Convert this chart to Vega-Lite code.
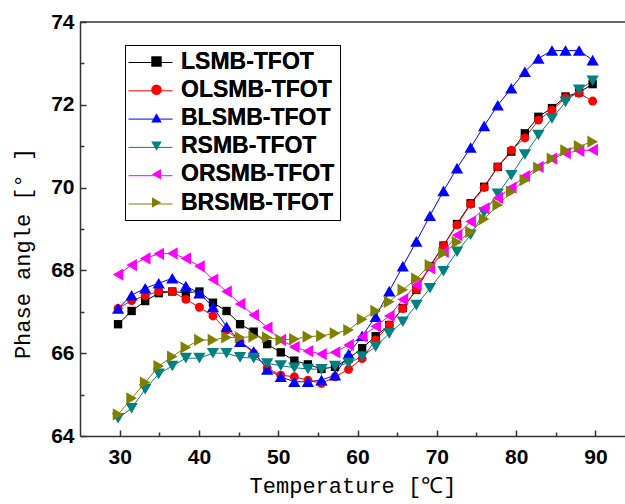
{
  "$schema": "https://vega.github.io/schema/vega-lite/v6.json",
  "autosize": {"type": "none"},
  "padding": {"left": 80, "top": 22, "right": 0, "bottom": 68},
  "width": 545,
  "height": 414,
  "config": {
    "view": {"stroke": null},
    "axis": {"grid": false, "domainColor": "#333333", "domainWidth": 1.5, "tickColor": "#333333", "tickWidth": 1.5,
      "labelFont": "Liberation Sans", "labelFontWeight": "bold", "labelFontSize": 21, "labelColor": "#000000",
      "titleFont": "Liberation Mono", "titleFontWeight": "normal", "titleFontSize": 22, "titleColor": "#000000"}
  },
  "datasets": {
    "series": [{"s":"LSMB-TFOT"},{"s":"OLSMB-TFOT"},{"s":"BLSMB-TFOT"},{"s":"RSMB-TFOT"},{"s":"ORSMB-TFOT"},{"s":"BRSMB-TFOT"}]
  },
  "data": {"values": [
    {"s":"LSMB-TFOT","T":29.8,"phase":66.7},{"s":"LSMB-TFOT","T":31.51,"phase":67.02},{"s":"LSMB-TFOT","T":33.22,"phase":67.26},{"s":"LSMB-TFOT","T":34.93,"phase":67.45},{"s":"LSMB-TFOT","T":36.64,"phase":67.49},{"s":"LSMB-TFOT","T":38.35,"phase":67.46},{"s":"LSMB-TFOT","T":40.06,"phase":67.49},{"s":"LSMB-TFOT","T":41.77,"phase":67.22},{"s":"LSMB-TFOT","T":43.48,"phase":67.02},{"s":"LSMB-TFOT","T":45.19,"phase":66.7},{"s":"LSMB-TFOT","T":46.9,"phase":66.52},{"s":"LSMB-TFOT","T":48.61,"phase":66.22},{"s":"LSMB-TFOT","T":50.32,"phase":66.02},{"s":"LSMB-TFOT","T":52.03,"phase":65.82},{"s":"LSMB-TFOT","T":53.74,"phase":65.73},{"s":"LSMB-TFOT","T":55.45,"phase":65.62},{"s":"LSMB-TFOT","T":57.16,"phase":65.67},{"s":"LSMB-TFOT","T":58.87,"phase":65.87},{"s":"LSMB-TFOT","T":60.58,"phase":66.12},{"s":"LSMB-TFOT","T":62.29,"phase":66.41},{"s":"LSMB-TFOT","T":64.0,"phase":66.68},{"s":"LSMB-TFOT","T":65.71,"phase":67.09},{"s":"LSMB-TFOT","T":67.42,"phase":67.53},{"s":"LSMB-TFOT","T":69.13,"phase":68.1},{"s":"LSMB-TFOT","T":70.84,"phase":68.6},{"s":"LSMB-TFOT","T":72.55,"phase":69.12},{"s":"LSMB-TFOT","T":74.26,"phase":69.62},{"s":"LSMB-TFOT","T":75.97,"phase":70.02},{"s":"LSMB-TFOT","T":77.68,"phase":70.5},{"s":"LSMB-TFOT","T":79.39,"phase":70.87},{"s":"LSMB-TFOT","T":81.1,"phase":71.31},{"s":"LSMB-TFOT","T":82.81,"phase":71.71},{"s":"LSMB-TFOT","T":84.52,"phase":71.92},{"s":"LSMB-TFOT","T":86.23,"phase":72.2},{"s":"LSMB-TFOT","T":87.94,"phase":72.3},{"s":"LSMB-TFOT","T":89.65,"phase":72.5},
    {"s":"OLSMB-TFOT","T":29.8,"phase":67.08},{"s":"OLSMB-TFOT","T":31.51,"phase":67.27},{"s":"OLSMB-TFOT","T":33.22,"phase":67.39},{"s":"OLSMB-TFOT","T":34.93,"phase":67.49},{"s":"OLSMB-TFOT","T":36.64,"phase":67.49},{"s":"OLSMB-TFOT","T":38.35,"phase":67.3},{"s":"OLSMB-TFOT","T":40.06,"phase":67.11},{"s":"OLSMB-TFOT","T":41.77,"phase":66.9},{"s":"OLSMB-TFOT","T":43.48,"phase":66.56},{"s":"OLSMB-TFOT","T":45.19,"phase":66.28},{"s":"OLSMB-TFOT","T":46.9,"phase":66.0},{"s":"OLSMB-TFOT","T":48.61,"phase":65.64},{"s":"OLSMB-TFOT","T":50.32,"phase":65.47},{"s":"OLSMB-TFOT","T":52.03,"phase":65.43},{"s":"OLSMB-TFOT","T":53.74,"phase":65.35},{"s":"OLSMB-TFOT","T":55.45,"phase":65.27},{"s":"OLSMB-TFOT","T":57.16,"phase":65.43},{"s":"OLSMB-TFOT","T":58.87,"phase":65.61},{"s":"OLSMB-TFOT","T":60.58,"phase":65.87},{"s":"OLSMB-TFOT","T":62.29,"phase":66.32},{"s":"OLSMB-TFOT","T":64.0,"phase":66.68},{"s":"OLSMB-TFOT","T":65.71,"phase":67.08},{"s":"OLSMB-TFOT","T":67.42,"phase":67.54},{"s":"OLSMB-TFOT","T":69.13,"phase":68.1},{"s":"OLSMB-TFOT","T":70.84,"phase":68.6},{"s":"OLSMB-TFOT","T":72.55,"phase":69.1},{"s":"OLSMB-TFOT","T":74.26,"phase":69.6},{"s":"OLSMB-TFOT","T":75.97,"phase":70.0},{"s":"OLSMB-TFOT","T":77.68,"phase":70.5},{"s":"OLSMB-TFOT","T":79.39,"phase":70.9},{"s":"OLSMB-TFOT","T":81.1,"phase":71.2},{"s":"OLSMB-TFOT","T":82.81,"phase":71.63},{"s":"OLSMB-TFOT","T":84.52,"phase":71.87},{"s":"OLSMB-TFOT","T":86.23,"phase":72.17},{"s":"OLSMB-TFOT","T":87.94,"phase":72.28},{"s":"OLSMB-TFOT","T":89.65,"phase":72.09},
    {"s":"BLSMB-TFOT","T":29.8,"phase":67.08},{"s":"BLSMB-TFOT","T":31.51,"phase":67.4},{"s":"BLSMB-TFOT","T":33.22,"phase":67.57},{"s":"BLSMB-TFOT","T":34.93,"phase":67.69},{"s":"BLSMB-TFOT","T":36.64,"phase":67.81},{"s":"BLSMB-TFOT","T":38.35,"phase":67.62},{"s":"BLSMB-TFOT","T":40.06,"phase":67.45},{"s":"BLSMB-TFOT","T":41.77,"phase":67.12},{"s":"BLSMB-TFOT","T":43.48,"phase":66.64},{"s":"BLSMB-TFOT","T":45.19,"phase":66.28},{"s":"BLSMB-TFOT","T":46.9,"phase":66.04},{"s":"BLSMB-TFOT","T":48.61,"phase":65.61},{"s":"BLSMB-TFOT","T":50.32,"phase":65.43},{"s":"BLSMB-TFOT","T":52.03,"phase":65.31},{"s":"BLSMB-TFOT","T":53.74,"phase":65.31},{"s":"BLSMB-TFOT","T":55.45,"phase":65.35},{"s":"BLSMB-TFOT","T":57.16,"phase":65.47},{"s":"BLSMB-TFOT","T":58.87,"phase":65.98},{"s":"BLSMB-TFOT","T":60.58,"phase":66.42},{"s":"BLSMB-TFOT","T":62.29,"phase":66.88},{"s":"BLSMB-TFOT","T":64.0,"phase":67.5},{"s":"BLSMB-TFOT","T":65.71,"phase":68.1},{"s":"BLSMB-TFOT","T":67.42,"phase":68.7},{"s":"BLSMB-TFOT","T":69.13,"phase":69.32},{"s":"BLSMB-TFOT","T":70.84,"phase":69.92},{"s":"BLSMB-TFOT","T":72.55,"phase":70.47},{"s":"BLSMB-TFOT","T":74.26,"phase":70.97},{"s":"BLSMB-TFOT","T":75.97,"phase":71.49},{"s":"BLSMB-TFOT","T":77.68,"phase":71.99},{"s":"BLSMB-TFOT","T":79.39,"phase":72.4},{"s":"BLSMB-TFOT","T":81.1,"phase":72.8},{"s":"BLSMB-TFOT","T":82.81,"phase":73.12},{"s":"BLSMB-TFOT","T":84.52,"phase":73.31},{"s":"BLSMB-TFOT","T":86.23,"phase":73.31},{"s":"BLSMB-TFOT","T":87.94,"phase":73.31},{"s":"BLSMB-TFOT","T":89.65,"phase":73.08},
    {"s":"RSMB-TFOT","T":29.8,"phase":64.43},{"s":"RSMB-TFOT","T":31.51,"phase":64.67},{"s":"RSMB-TFOT","T":33.22,"phase":65.13},{"s":"RSMB-TFOT","T":34.93,"phase":65.5},{"s":"RSMB-TFOT","T":36.64,"phase":65.69},{"s":"RSMB-TFOT","T":38.35,"phase":65.88},{"s":"RSMB-TFOT","T":40.06,"phase":65.88},{"s":"RSMB-TFOT","T":41.77,"phase":66.0},{"s":"RSMB-TFOT","T":43.48,"phase":66.0},{"s":"RSMB-TFOT","T":45.19,"phase":65.9},{"s":"RSMB-TFOT","T":46.9,"phase":65.88},{"s":"RSMB-TFOT","T":48.61,"phase":65.75},{"s":"RSMB-TFOT","T":50.32,"phase":65.7},{"s":"RSMB-TFOT","T":52.03,"phase":65.65},{"s":"RSMB-TFOT","T":53.74,"phase":65.62},{"s":"RSMB-TFOT","T":55.45,"phase":65.61},{"s":"RSMB-TFOT","T":57.16,"phase":65.69},{"s":"RSMB-TFOT","T":58.87,"phase":65.76},{"s":"RSMB-TFOT","T":60.58,"phase":65.92},{"s":"RSMB-TFOT","T":62.29,"phase":66.16},{"s":"RSMB-TFOT","T":64.0,"phase":66.48},{"s":"RSMB-TFOT","T":65.71,"phase":66.76},{"s":"RSMB-TFOT","T":67.42,"phase":67.16},{"s":"RSMB-TFOT","T":69.13,"phase":67.57},{"s":"RSMB-TFOT","T":70.84,"phase":67.98},{"s":"RSMB-TFOT","T":72.55,"phase":68.45},{"s":"RSMB-TFOT","T":74.26,"phase":68.86},{"s":"RSMB-TFOT","T":75.97,"phase":69.4},{"s":"RSMB-TFOT","T":77.68,"phase":69.85},{"s":"RSMB-TFOT","T":79.39,"phase":70.3},{"s":"RSMB-TFOT","T":81.1,"phase":70.8},{"s":"RSMB-TFOT","T":82.81,"phase":71.27},{"s":"RSMB-TFOT","T":84.52,"phase":71.67},{"s":"RSMB-TFOT","T":86.23,"phase":72.07},{"s":"RSMB-TFOT","T":87.94,"phase":72.36},{"s":"RSMB-TFOT","T":89.65,"phase":72.58},
    {"s":"ORSMB-TFOT","T":29.8,"phase":67.9},{"s":"ORSMB-TFOT","T":31.51,"phase":68.13},{"s":"ORSMB-TFOT","T":33.22,"phase":68.29},{"s":"ORSMB-TFOT","T":34.93,"phase":68.4},{"s":"ORSMB-TFOT","T":36.64,"phase":68.41},{"s":"ORSMB-TFOT","T":38.35,"phase":68.29},{"s":"ORSMB-TFOT","T":40.06,"phase":68.1},{"s":"ORSMB-TFOT","T":41.77,"phase":67.78},{"s":"ORSMB-TFOT","T":43.48,"phase":67.49},{"s":"ORSMB-TFOT","T":45.19,"phase":67.19},{"s":"ORSMB-TFOT","T":46.9,"phase":66.92},{"s":"ORSMB-TFOT","T":48.61,"phase":66.62},{"s":"ORSMB-TFOT","T":50.32,"phase":66.32},{"s":"ORSMB-TFOT","T":52.03,"phase":66.15},{"s":"ORSMB-TFOT","T":53.74,"phase":66.05},{"s":"ORSMB-TFOT","T":55.45,"phase":65.98},{"s":"ORSMB-TFOT","T":57.16,"phase":66.02},{"s":"ORSMB-TFOT","T":58.87,"phase":66.2},{"s":"ORSMB-TFOT","T":60.58,"phase":66.4},{"s":"ORSMB-TFOT","T":62.29,"phase":66.65},{"s":"ORSMB-TFOT","T":64.0,"phase":66.9},{"s":"ORSMB-TFOT","T":65.71,"phase":67.3},{"s":"ORSMB-TFOT","T":67.42,"phase":67.65},{"s":"ORSMB-TFOT","T":69.13,"phase":68.05},{"s":"ORSMB-TFOT","T":70.84,"phase":68.45},{"s":"ORSMB-TFOT","T":72.55,"phase":68.85},{"s":"ORSMB-TFOT","T":74.26,"phase":69.18},{"s":"ORSMB-TFOT","T":75.97,"phase":69.5},{"s":"ORSMB-TFOT","T":77.68,"phase":69.75},{"s":"ORSMB-TFOT","T":79.39,"phase":70.0},{"s":"ORSMB-TFOT","T":81.1,"phase":70.28},{"s":"ORSMB-TFOT","T":82.81,"phase":70.5},{"s":"ORSMB-TFOT","T":84.52,"phase":70.7},{"s":"ORSMB-TFOT","T":86.23,"phase":70.83},{"s":"ORSMB-TFOT","T":87.94,"phase":70.89},{"s":"ORSMB-TFOT","T":89.65,"phase":70.91},
    {"s":"BRSMB-TFOT","T":29.8,"phase":64.52},{"s":"BRSMB-TFOT","T":31.51,"phase":64.91},{"s":"BRSMB-TFOT","T":33.22,"phase":65.29},{"s":"BRSMB-TFOT","T":34.93,"phase":65.69},{"s":"BRSMB-TFOT","T":36.64,"phase":65.92},{"s":"BRSMB-TFOT","T":38.35,"phase":66.14},{"s":"BRSMB-TFOT","T":40.06,"phase":66.32},{"s":"BRSMB-TFOT","T":41.77,"phase":66.32},{"s":"BRSMB-TFOT","T":43.48,"phase":66.38},{"s":"BRSMB-TFOT","T":45.19,"phase":66.38},{"s":"BRSMB-TFOT","T":46.9,"phase":66.4},{"s":"BRSMB-TFOT","T":48.61,"phase":66.38},{"s":"BRSMB-TFOT","T":50.32,"phase":66.32},{"s":"BRSMB-TFOT","T":52.03,"phase":66.34},{"s":"BRSMB-TFOT","T":53.74,"phase":66.4},{"s":"BRSMB-TFOT","T":55.45,"phase":66.42},{"s":"BRSMB-TFOT","T":57.16,"phase":66.48},{"s":"BRSMB-TFOT","T":58.87,"phase":66.56},{"s":"BRSMB-TFOT","T":60.58,"phase":66.82},{"s":"BRSMB-TFOT","T":62.29,"phase":67.02},{"s":"BRSMB-TFOT","T":64.0,"phase":67.24},{"s":"BRSMB-TFOT","T":65.71,"phase":67.53},{"s":"BRSMB-TFOT","T":67.42,"phase":67.8},{"s":"BRSMB-TFOT","T":69.13,"phase":68.13},{"s":"BRSMB-TFOT","T":70.84,"phase":68.42},{"s":"BRSMB-TFOT","T":72.55,"phase":68.68},{"s":"BRSMB-TFOT","T":74.26,"phase":68.93},{"s":"BRSMB-TFOT","T":75.97,"phase":69.24},{"s":"BRSMB-TFOT","T":77.68,"phase":69.58},{"s":"BRSMB-TFOT","T":79.39,"phase":69.9},{"s":"BRSMB-TFOT","T":81.1,"phase":70.18},{"s":"BRSMB-TFOT","T":82.81,"phase":70.48},{"s":"BRSMB-TFOT","T":84.52,"phase":70.7},{"s":"BRSMB-TFOT","T":86.23,"phase":70.9},{"s":"BRSMB-TFOT","T":87.94,"phase":71.0},{"s":"BRSMB-TFOT","T":89.65,"phase":71.11}
  ]},
  "encoding": {
    "x": {"field": "T", "type": "quantitative",
      "scale": {"domain": [25, 93.73], "nice": false, "zero": false},
      "axis": {"values": [30, 35, 40, 45, 50, 55, 60, 65, 70, 75, 80, 85, 90],
        "labelExpr": "datum.value % 10 === 0 ? datum.label : ''",
        "tickSize": {"condition": {"test": "datum.value % 10 === 0", "value": -6}, "value": -4},
        "labelPadding": 16, "labelFlush": false,
        "title": "Temperature [℃]", "titleY": 49, "titleBaseline": "middle"}},
    "y": {"field": "phase", "type": "quantitative",
      "scale": {"domain": [64, 74], "nice": false, "zero": false},
      "axis": {"values": [64, 65, 66, 67, 68, 69, 70, 71, 72, 73, 74],
        "labelExpr": "datum.value % 2 === 0 ? datum.label : ''",
        "tickSize": {"condition": {"test": "datum.value % 2 === 0", "value": -6}, "value": -4},
        "labelPadding": 12, "labelFlush": false,
        "title": "Phase angle [° ]", "titleX": -58, "titleY": 231, "titleAngle": -90, "titleBaseline": "middle", "titleAlign": "center"}}
  },
  "layer": [
    {"data": {"values": [{"T": 25, "phase": 74}]},
     "mark": {"type": "rule", "color": "#333333", "strokeWidth": 1.5},
     "encoding": {"x": null}},
    {"mark": {"type": "line", "strokeWidth": 1},
     "encoding": {"stroke": {"field": "s", "type": "nominal",
        "scale": {"domain": ["LSMB-TFOT","OLSMB-TFOT","BLSMB-TFOT","RSMB-TFOT","ORSMB-TFOT","BRSMB-TFOT"],
                  "range": ["#000000","#ff0000","#0000ff","#008080","#ff00ff","#808000"]},
        "legend": {"title": null, "orient": "top-left", "offset": 0,
           "symbolType": "stroke", "symbolSize": 1936, "symbolStrokeWidth": 1, "symbolOpacity": 1, "symbolOffset": 30,
           "labelFont": "Liberation Sans", "labelFontSize": 10, "labelOpacity": 0,
           "labelOffset": 6, "rowPadding": 0.3, "padding": 18,
           "strokeColor": null, "fillColor": null}}}},
    {"transform": [{"filter": "datum.s === 'LSMB-TFOT'"}],
     "mark": {"type": "point", "shape": "square", "filled": true, "opacity": 1, "size": 70},
     "encoding": {"fill": {"field": "s", "type": "nominal", "legend": null,
        "scale": {"domain": ["LSMB-TFOT","OLSMB-TFOT","BLSMB-TFOT","RSMB-TFOT","ORSMB-TFOT","BRSMB-TFOT"],
                  "range": ["#000000","#ff0000","#0000ff","#008080","#ff00ff","#808000"]}}}},
    {"transform": [{"filter": "datum.s === 'OLSMB-TFOT'"}],
     "mark": {"type": "point", "shape": "circle", "filled": true, "opacity": 1, "size": 80},
     "encoding": {"fill": {"field": "s", "type": "nominal", "legend": null}}},
    {"transform": [{"filter": "datum.s === 'BLSMB-TFOT'"}],
     "mark": {"type": "point", "shape": "triangle-up", "filled": true, "opacity": 1, "size": 150},
     "encoding": {"fill": {"field": "s", "type": "nominal", "legend": null}}},
    {"transform": [{"filter": "datum.s === 'RSMB-TFOT'"}],
     "mark": {"type": "point", "shape": "triangle-down", "filled": true, "opacity": 1, "size": 150},
     "encoding": {"fill": {"field": "s", "type": "nominal", "legend": null}}},
    {"transform": [{"filter": "datum.s === 'ORSMB-TFOT'"}],
     "mark": {"type": "point", "shape": "triangle-left", "filled": true, "opacity": 1, "size": 150},
     "encoding": {"fill": {"field": "s", "type": "nominal", "legend": null}}},
    {"transform": [{"filter": "datum.s === 'BRSMB-TFOT'"}],
     "mark": {"type": "point", "shape": "triangle-right", "filled": true, "opacity": 1, "size": 150},
     "encoding": {"fill": {"field": "s", "type": "nominal", "legend": null}}},
    {"data": {"name": "series"},
     "mark": {"type": "point", "filled": true, "opacity": 1},
     "encoding": {
       "color": {"field": "s", "type": "nominal",
         "scale": {"domain": ["LSMB-TFOT","OLSMB-TFOT","BLSMB-TFOT","RSMB-TFOT","ORSMB-TFOT","BRSMB-TFOT"],
                   "range": ["#000000","#ff0000","#0000ff","#008080","#ff00ff","#808000"]},
         "legend": {"title": null, "orient": "none", "legendX": 45, "legendY": 23,
           "symbolSize": 110, "symbolStrokeWidth": 0, "symbolOpacity": 1, "symbolOffset": 15,
           "labelFont": "Liberation Sans", "labelFontWeight": "bold", "labelFontSize": 23, "labelColor": "#000000",
           "labelOffset": 13, "rowPadding": 4.2, "padding": 5, "strokeColor": "#000000", "fillColor": null}},
       "shape": {"field": "s", "type": "nominal",
         "scale": {"domain": ["LSMB-TFOT","OLSMB-TFOT","BLSMB-TFOT","RSMB-TFOT","ORSMB-TFOT","BRSMB-TFOT"],
                   "range": ["square","circle","triangle-up","triangle-down","triangle-left","triangle-right"]},
         "legend": {"title": null, "orient": "none", "legendX": 45, "legendY": 23,
           "symbolSize": 110, "symbolStrokeWidth": 0, "symbolOpacity": 1, "symbolOffset": 15,
           "labelFont": "Liberation Sans", "labelFontWeight": "bold", "labelFontSize": 23, "labelColor": "#000000",
           "labelOffset": 13, "rowPadding": 4.2, "padding": 5, "strokeColor": "#000000", "fillColor": null}}}}
  ]
}
